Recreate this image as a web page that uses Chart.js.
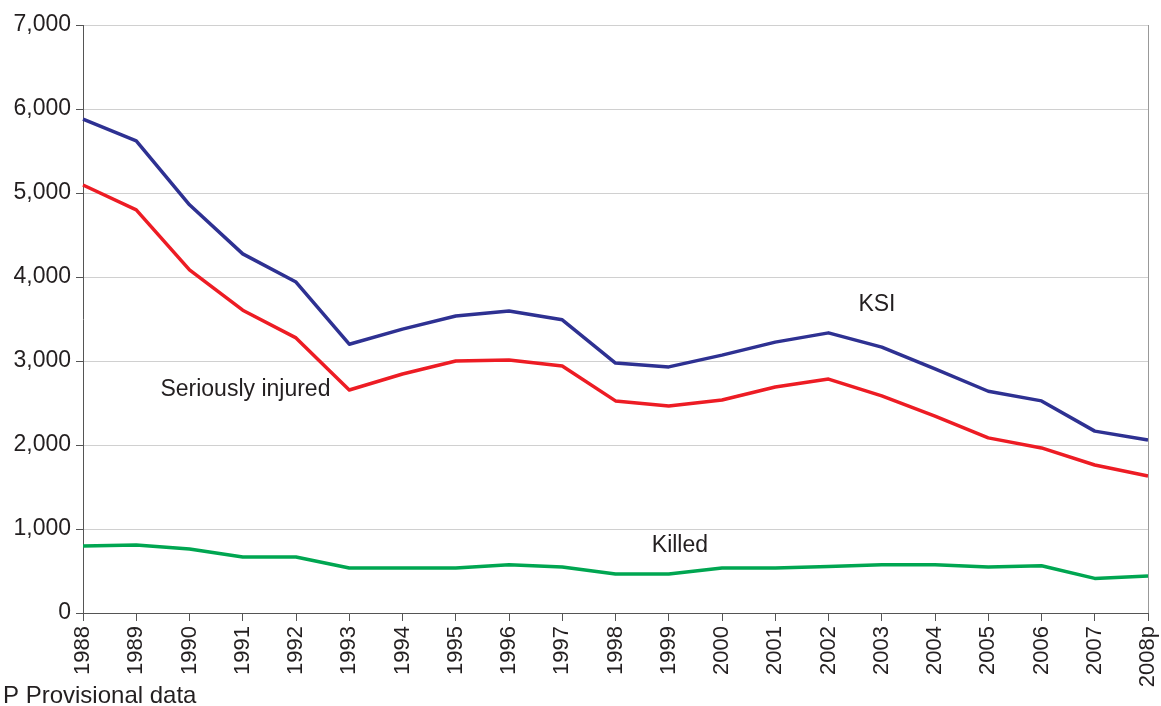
<!DOCTYPE html>
<html><head><meta charset="utf-8">
<script src="https://cdn.jsdelivr.net/npm/chart.js@4"></script>
<style>html,body{margin:0;padding:0;background:#fff}#wrap{width:1161px;height:706px}</style>
</head><body><div id="wrap"><canvas id="c" width="1161" height="706"></canvas></div>
<script>
const categories = ['1988','1989','1990','1991','1992','1993','1994','1995','1996','1997','1998','1999','2000','2001','2002','2003','2004','2005','2006','2007','2008p'];
const ksi = [5880,5620,4860,4275,3940,3200,3380,3535,3595,3490,2975,2930,3070,3225,3335,3165,2905,2640,2525,2165,2060];
const seriouslyInjured = [5095,4800,4085,3605,3275,2655,2845,3000,3012,2940,2525,2465,2535,2690,2785,2585,2345,2085,1965,1762,1632];
const killed = [798,810,762,667,667,536,536,536,575,548,464,464,536,536,555,575,575,548,562,412,440];
const yTicks = [0,1000,2000,3000,4000,5000,6000,7000];
const seriesLabels = ['KSI','Seriously injured','Killed'];
const footnote = 'P Provisional data';

const FONT = '"Liberation Sans", Arial, sans-serif';
const annotations = {
  id: 'annotations',
  afterDraw(chart) {
    const {ctx, chartArea, scales} = chart;
    ctx.save();
    ctx.strokeStyle = '#999';
    ctx.lineWidth = 1;
    ctx.beginPath();
    ctx.moveTo(chartArea.right + 0.5, chartArea.top);
    ctx.lineTo(chartArea.right + 0.5, chartArea.bottom);
    ctx.stroke();
    ctx.fillStyle = '#231f20';
    ctx.font = '23px ' + FONT;
    ctx.textBaseline = 'middle';
    ctx.textAlign = 'center';
    const x = scales.x, y = scales.y;
    ctx.fillText(seriesLabels[0], x.getPixelForValue(14.91), y.getPixelForValue(3667));
    ctx.fillText(seriesLabels[1], x.getPixelForValue(3.05), y.getPixelForValue(2655));
    ctx.fillText(seriesLabels[2], x.getPixelForValue(11.21), y.getPixelForValue(798));
    ctx.textAlign = 'left';
    ctx.font = '24px ' + FONT;
    ctx.fillText(footnote, 3, 696);
    ctx.restore();
  }
};

new Chart(document.getElementById('c'), {
  type: 'line',
  data: {
    labels: categories,
    datasets: [
      {label: seriesLabels[0], data: ksi, borderColor: '#2e3192', borderWidth: 3.5},
      {label: seriesLabels[1], data: seriouslyInjured, borderColor: '#ed1c24', borderWidth: 3.5},
      {label: seriesLabels[2], data: killed, borderColor: '#00a651', borderWidth: 3.5}
    ]
  },
  options: {
    responsive: false,
    animation: false,
    devicePixelRatio: 1,
    layout: {padding: {top: 25, right: 13, left: 0, bottom: 0}},
    elements: {point: {radius: 0}, line: {tension: 0, borderJoinStyle: 'round'}},
    plugins: {legend: {display: false}, tooltip: {enabled: false}},
    scales: {
      x: {
        offset: false,
        grid: {drawOnChartArea: false, color: '#555', tickLength: 8, tickColor: '#555'},
        border: {color: '#555', width: 1},
        ticks: {maxRotation: 90, minRotation: 90, color: '#231f20', font: {size: 22, family: FONT}, padding: 5, autoSkip: false},
        afterFit(s) { s.height = 93; s.paddingLeft = 0; s.paddingRight = 0; }
      },
      y: {
        min: 0, max: 7000,
        afterBuildTicks(s) { s.ticks = yTicks.map(v => ({value: v})); },
        grid: {color: '#d0d0d0', tickLength: 7, tickColor: '#555', lineWidth: 1},
        border: {color: '#555', width: 1},
        ticks: {color: '#231f20', font: {size: 23, family: FONT}, padding: 5,
          callback: v => v.toLocaleString('en-US')},
        afterFit(s) { s.width = 83; s.paddingTop = 0; s.paddingBottom = 0; }
      }
    }
  },
  plugins: [annotations]
});
</script>
</body></html>
